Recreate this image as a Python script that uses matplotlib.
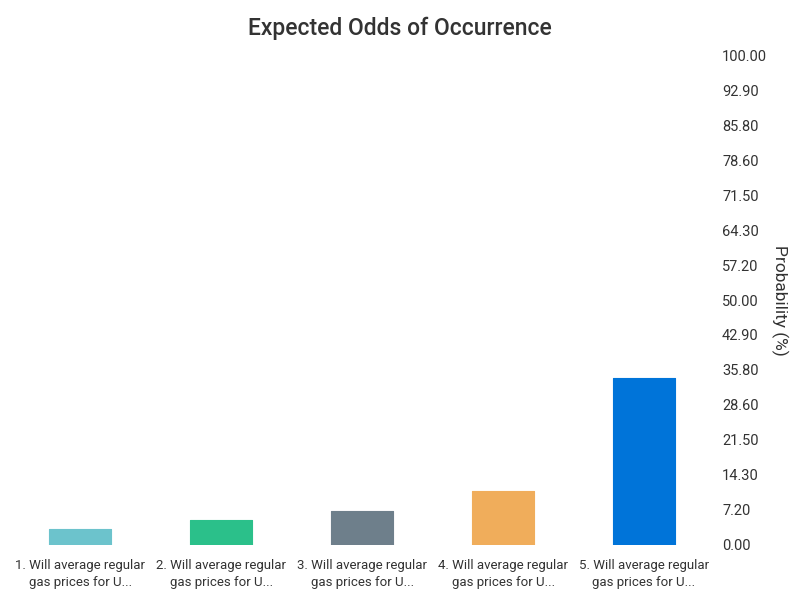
import matplotlib
matplotlib.use("Agg")
import matplotlib.pyplot as plt

categories = ["1. Will average regular\ngas prices for U...",
              "2. Will average regular\ngas prices for U...",
              "3. Will average regular\ngas prices for U...",
              "4. Will average regular\ngas prices for U...",
              "5. Will average regular\ngas prices for U..."]
values = [3.2, 5.2, 7.0, 11.1, 34.1]
colors = ["#6CC3CC", "#2BC08A", "#6E7F8B", "#F0AD5B", "#0074D9"]
tick_values = [i * 100 / 14 for i in range(15)]
tick_labels = ["0.00", "7.20", "14.30", "21.50", "28.60", "35.80", "42.90", "50.00",
               "57.20", "64.30", "71.50", "78.60", "85.80", "92.90", "100.00"]

plt.rcParams['font.family'] = ['Roboto', 'DejaVu Sans']
text_color = "#333333"

fig = plt.figure(figsize=(8, 6), dpi=100)
ax = fig.add_axes([0.0125, 0.0917, 0.8806, 0.8166])
x = list(range(len(categories)))
ax.bar(x, values, width=0.44, color=colors, edgecolor=colors, linewidth=0.8,
       joinstyle='round')
ax.set_xlim(-0.5, len(categories) - 0.5)
ax.set_ylim(0, 100)
ax.yaxis.tick_right()
ax.yaxis.set_label_position("right")
ax.set_yticks(tick_values)
ax.set_yticklabels(tick_labels)
ax.set_xticks(x)
ax.set_xticklabels(categories, fontsize=9.5, color=text_color, linespacing=1.45)
ax.tick_params(axis='y', length=0, pad=5.5, labelsize=10.5, labelcolor=text_color)
ax.tick_params(axis='x', length=0, pad=10)
for s in ax.spines.values():
    s.set_visible(False)
ax.set_ylabel("Probability (%)", rotation=270, labelpad=15, fontsize=12.5,
              color=text_color)
fig.text(0.5, 0.9535, "Expected Odds of Occurrence", ha='center', va='center',
         fontsize=16.5, fontweight='medium', color=text_color)
fig.savefig("out.png", dpi=100)
